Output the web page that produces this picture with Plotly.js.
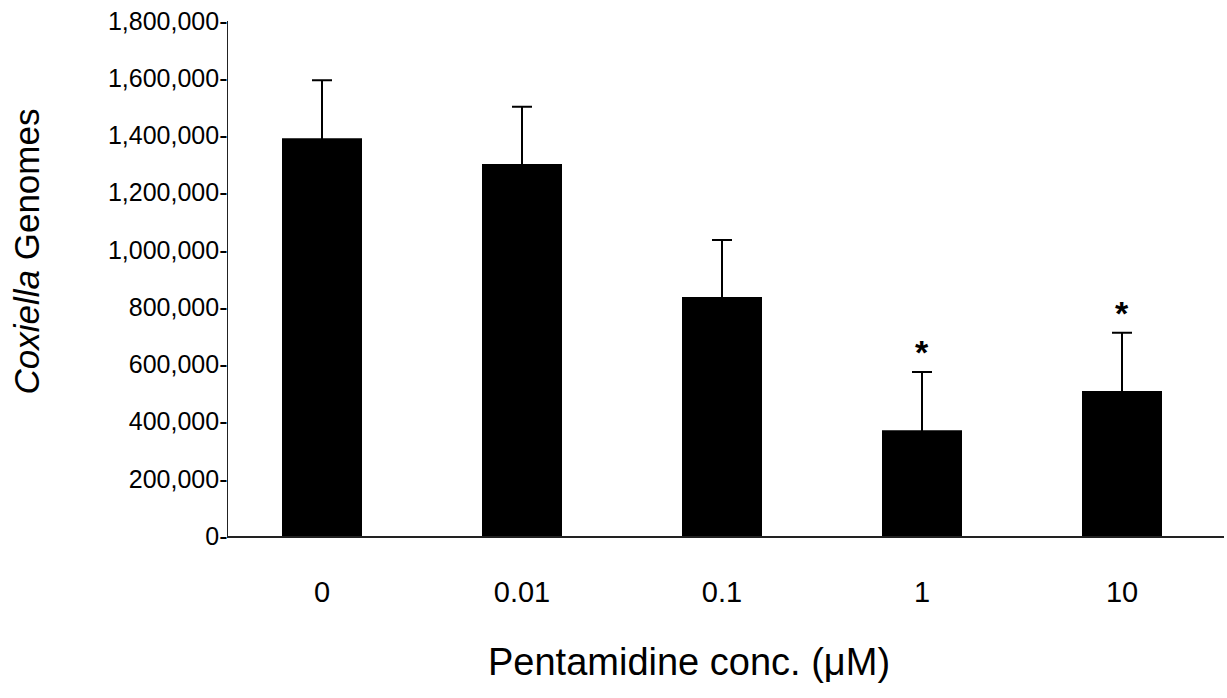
<!DOCTYPE html>
<html>
<head>
<meta charset="utf-8">
<script src="https://cdn.plot.ly/plotly-3.0.1.min.js"></script>
<style>html,body{margin:0;padding:0;background:#fff;}#chart{width:1227px;height:698px;}</style>
</head>
<body>
<div id="chart"></div>
<script>
const categories = ['0', '0.01', '0.1', '1', '10'];
const genomes = [1390000, 1300000, 835000, 370000, 507000];
const errUpper = [203000, 200000, 200000, 203000, 203000];
const significant = [false, false, false, true, true];
const yTickVals = [0, 200000, 400000, 600000, 800000, 1000000, 1200000, 1400000, 1600000, 1800000];
const yTickText = ['0-', '200,000-', '400,000-', '600,000-', '800,000-', '1,000,000-', '1,200,000-', '1,400,000-', '1,600,000-', '1,800,000-'];

const FONT = 'Liberation Sans, Arial, Helvetica, sans-serif';

const trace = {
  type: 'bar',
  x: categories,
  y: genomes,
  width: 0.4,
  marker: {color: '#000000', line: {width: 0}},
  error_y: {
    type: 'data',
    symmetric: true,
    array: errUpper,
    color: '#000000',
    thickness: 2,
    width: 10
  },
  hoverinfo: 'skip'
};

const annotations = [];
categories.forEach((c, i) => {
  if (significant[i]) {
    annotations.push({
      x: i, y: genomes[i] + errUpper[i],
      xref: 'x', yref: 'y',
      text: '<b>*</b>',
      showarrow: false,
      yanchor: 'middle',
      yshift: 20,
      font: {family: FONT, size: 34, color: '#000'}
    });
  }
});

annotations.push({
  xref: 'paper', yref: 'paper',
  x: -0.2018, y: 0.5524,
  xanchor: 'center', yanchor: 'middle',
  textangle: -90,
  showarrow: false,
  text: '<i>Coxiella</i> Genomes',
  font: {family: FONT, size: 35, color: '#000'}
});

annotations.push({
  xref: 'paper', yref: 'paper',
  x: 0.4629, y: -0.2447,
  xanchor: 'center', yanchor: 'middle',
  showarrow: false,
  text: 'Pentamidine conc. (\u03bcM)',
  font: {family: FONT, size: 38, color: '#000'}
});

const layout = {
  width: 1227, height: 698,
  margin: {l: 228, r: 3, t: 21, b: 162, pad: 0},
  paper_bgcolor: '#fff', plot_bgcolor: '#fff',
  showlegend: false,
  font: {family: FONT, color: '#000'},
  xaxis: {
    type: 'category',
    range: [-0.47, 4.51],
    showline: true, linecolor: '#222', linewidth: 1.5,
    showgrid: false, zeroline: false,
    ticks: '',
    ticklabelstandoff: 30,
    tickfont: {family: FONT, size: 29, color: '#000'},
    automargin: false,
    fixedrange: true
  },
  yaxis: {
    range: [0, 1800000],
    tickmode: 'array',
    tickvals: yTickVals,
    ticktext: yTickText,
    showline: true, linecolor: '#222', linewidth: 1.5,
    showgrid: false, zeroline: false,
    ticks: '',
    ticklabelstandoff: -6,
    tickfont: {family: FONT, size: 25, color: '#000'},
    automargin: false,
    fixedrange: true
  },
  annotations: annotations
};

Plotly.newPlot('chart', [trace], layout, {displayModeBar: false, staticPlot: true});
</script>
</body>
</html>
